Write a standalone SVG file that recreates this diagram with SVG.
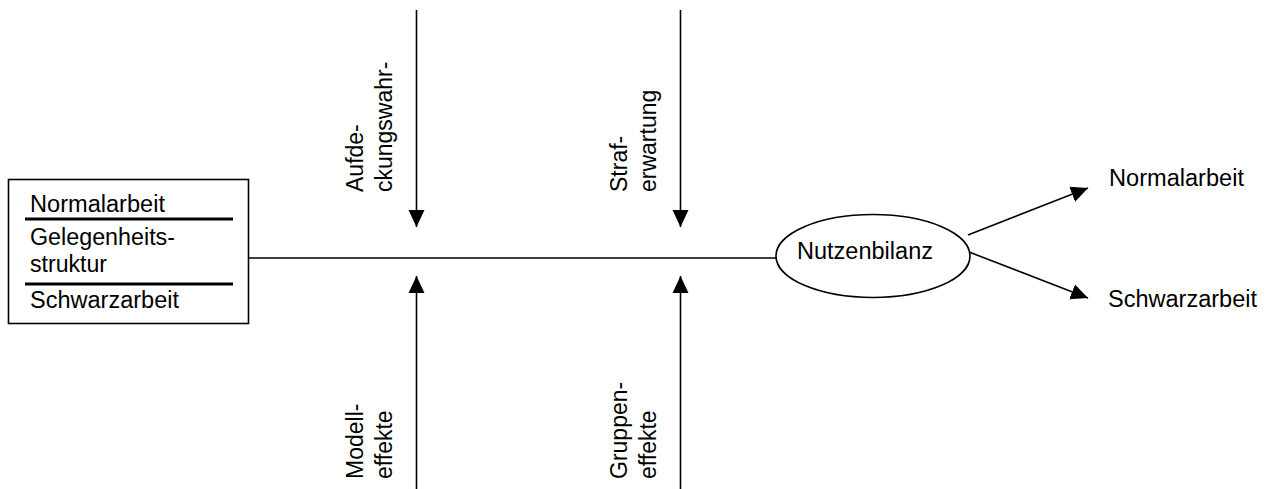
<svg xmlns="http://www.w3.org/2000/svg" width="1268" height="489" viewBox="0 0 1268 489">
  <style>
    .txt { font-family: "Liberation Sans", Arial, sans-serif; font-size: 23px; fill: #000; }
    .ln { stroke: #000; stroke-width: 1.6; fill: none; }
    .sep { stroke: #000; stroke-width: 3.2; }
  </style>
  <defs>
    <marker id="arrow" markerUnits="userSpaceOnUse" markerWidth="18" markerHeight="18" viewBox="0 0 18 18" refX="17" refY="9" orient="auto">
      <path d="M0,1 L17,9 L0,17 Z" fill="#000"/>
    </marker>
  </defs>

  <rect width="1268" height="489" fill="#fff"/>

  <g id="connectors">
    <line class="ln" x1="248" y1="258" x2="776" y2="258"/>
    <line class="ln" x1="416.5" y1="10" x2="416.5" y2="227" marker-end="url(#arrow)"/>
    <line class="ln" x1="680.5" y1="10" x2="680.5" y2="227" marker-end="url(#arrow)"/>
    <line class="ln" x1="416.5" y1="489" x2="416.5" y2="276" marker-end="url(#arrow)"/>
    <line class="ln" x1="680.5" y1="489" x2="680.5" y2="276" marker-end="url(#arrow)"/>
    <line class="ln" x1="968" y1="235" x2="1088" y2="188" marker-end="url(#arrow)"/>
    <line class="ln" x1="969" y1="252" x2="1088" y2="298" marker-end="url(#arrow)"/>
  </g>

  <g id="box">
    <rect class="ln" x="8.5" y="179.5" width="240" height="144"/>
    <line class="sep" x1="25" y1="219" x2="233" y2="219"/>
    <line class="sep" x1="25" y1="284" x2="233" y2="284"/>
    <text class="txt" x="30" y="212" textLength="135" lengthAdjust="spacingAndGlyphs">Normalarbeit</text>
    <text class="txt" x="30" y="245" textLength="145" lengthAdjust="spacingAndGlyphs">Gelegenheits-</text>
    <text class="txt" x="30" y="272" textLength="77" lengthAdjust="spacingAndGlyphs">struktur</text>
    <text class="txt" x="30" y="308" textLength="149" lengthAdjust="spacingAndGlyphs">Schwarzarbeit</text>
  </g>

  <g id="aufdeckung">
    <text class="txt" transform="translate(363,192) rotate(-90)">Aufde-</text>
    <text class="txt" transform="translate(392,192) rotate(-90)">ckungswahr-</text>
  </g>

  <g id="strafe">
    <text class="txt" transform="translate(627,192) rotate(-90)">Straf-</text>
    <text class="txt" transform="translate(656,192) rotate(-90)">erwartung</text>
  </g>

  <g id="modell">
    <text class="txt" transform="translate(363,479) rotate(-90)">Modell-</text>
    <text class="txt" transform="translate(392,479) rotate(-90)">effekte</text>
  </g>

  <g id="gruppen">
    <text class="txt" transform="translate(627,479) rotate(-90)">Gruppen-</text>
    <text class="txt" transform="translate(656,479) rotate(-90)">effekte</text>
  </g>

  <g id="nutzenbilanz">
    <ellipse class="ln" cx="873" cy="256" rx="97" ry="41.5"/>
    <text class="txt" x="797" y="259" textLength="136" lengthAdjust="spacingAndGlyphs">Nutzenbilanz</text>
  </g>

  <g id="out-normal">
    <text class="txt" x="1109" y="186" textLength="135" lengthAdjust="spacingAndGlyphs">Normalarbeit</text>
  </g>

  <g id="out-schwarz">
    <text class="txt" x="1108" y="307" textLength="149" lengthAdjust="spacingAndGlyphs">Schwarzarbeit</text>
  </g>
</svg>
